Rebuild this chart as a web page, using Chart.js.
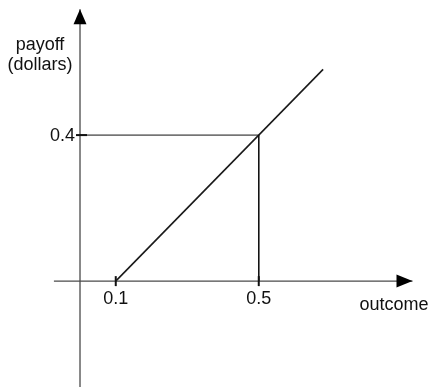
<!DOCTYPE html>
<html>
<head>
<meta charset="utf-8">
<script src="https://cdn.jsdelivr.net/npm/chart.js@4.4.3/dist/chart.umd.min.js"></script>
<style>
  html, body { margin: 0; padding: 0; background: #fff; }
  #wrap { width: 430px; height: 387px; position: relative; }
</style>
</head>
<body>
<div id="wrap"><canvas id="payoff-chart"></canvas></div>
<script>
// Payoff line (zero at 0.1, then rising one for one).
var payoffX = [0.1, 0.68];
var payoffY = [0, 0.58];

// Guide lines to the marked point (0.5, 0.4).
var guideX = [0, 0.5, 0.5];
var guideY = [0.4, 0.4, 0];

// Axis extents.
var xAxisRange = [-0.073, 0.93];
var yAxisRange = [-0.3, 0.745];

// Tick labels.
var xTicks = [0.1, 0.5];
var xTickLabels = ['0.1', '0.5'];
var yTicks = [0.4];
var yTickLabels = ['0.4'];

var xTitle = 'outcome';
var yTitle = ['payoff', '(dollars)'];

(function () {
	'use strict';

	function pts(xs, ys) {
		return xs.map(function (x, i) { return { x: x, y: ys[i] }; });
	}

	var FONT = '18px "Liberation Sans", Arial, sans-serif';
	var TEXT = '#111';
	var AXIS = '#4a4a4a';

	// Arrowheads, tick marks and labels drawn on top of the datasets.
	var decorations = {
		id: 'decorations',
		afterDatasetsDraw: function (chart) {
			var ctx = chart.ctx;
			var sx = chart.scales.x;
			var sy = chart.scales.y;
			var y0 = sy.getPixelForValue(0);
			var x0 = sx.getPixelForValue(0);
			ctx.save();

			// x arrow.
			var xe = sx.getPixelForValue(xAxisRange[1]);
			ctx.fillStyle = '#000';
			ctx.beginPath();
			ctx.moveTo(xe, y0);
			ctx.lineTo(xe - 16, y0 - 6.5);
			ctx.lineTo(xe - 16, y0 + 6.5);
			ctx.closePath();
			ctx.fill();

			// y arrow.
			var ye = sy.getPixelForValue(yAxisRange[1]);
			ctx.beginPath();
			ctx.moveTo(x0, ye);
			ctx.lineTo(x0 - 6.5, ye + 15);
			ctx.lineTo(x0 + 6.5, ye + 15);
			ctx.closePath();
			ctx.fill();

			// Tick marks.
			ctx.strokeStyle = '#111';
			ctx.lineWidth = 2;
			xTicks.forEach(function (v) {
				var px = sx.getPixelForValue(v);
				ctx.beginPath();
				ctx.moveTo(px, y0 - 5);
				ctx.lineTo(px, y0 + 5);
				ctx.stroke();
			});
			yTicks.forEach(function (v) {
				var py = sy.getPixelForValue(v);
				ctx.beginPath();
				ctx.moveTo(x0 - 4, py);
				ctx.lineTo(x0 + 7, py);
				ctx.stroke();
			});

			// Labels.
			ctx.font = FONT;
			ctx.fillStyle = TEXT;
			ctx.textBaseline = 'middle';
			ctx.textAlign = 'center';
			xTicks.forEach(function (v, i) {
				ctx.fillText(xTickLabels[i], sx.getPixelForValue(v), y0 + 18);
			});
			ctx.textAlign = 'right';
			yTicks.forEach(function (v, i) {
				ctx.fillText(yTickLabels[i], x0 - 5, sy.getPixelForValue(v) + 1);
			});

			ctx.textAlign = 'left';
			ctx.fillText(xTitle, xe - 53, y0 + 24);

			ctx.textAlign = 'center';
			ctx.fillText(yTitle[0], x0 - 40, ye + 36);
			ctx.fillText(yTitle[1], x0 - 40, ye + 56);

			ctx.restore();
		}
	};

	new Chart(document.getElementById('payoff-chart'), {
		type: 'scatter',
		data: {
			datasets: [
				{
					// x axis line
					data: pts(xAxisRange, [0, 0]),
					showLine: true,
					borderColor: AXIS,
					borderWidth: 1.3,
					pointRadius: 0
				},
				{
					// y axis line
					data: pts([0, 0], yAxisRange),
					showLine: true,
					borderColor: AXIS,
					borderWidth: 1.3,
					pointRadius: 0
				},
				{
					data: pts(guideX, guideY),
					showLine: true,
					borderColor: '#111',
					borderWidth: 1,
					pointRadius: 0
				},
				{
					data: pts(payoffX, payoffY),
					showLine: true,
					borderColor: '#1a1a1a',
					borderWidth: 1.6,
					pointRadius: 0
				}
			]
		},
		options: {
			responsive: true,
			maintainAspectRatio: false,
			animation: false,
			layout: { padding: 0 },
			plugins: {
				legend: { display: false },
				tooltip: { enabled: false }
			},
			scales: {
				x: { type: 'linear', display: false, min: -0.2238, max: 0.979 },
				y: { type: 'linear', display: false, min: -0.29, max: 0.77 }
			}
		},
		plugins: [decorations]
	});
})();
</script>
</body>
</html>
